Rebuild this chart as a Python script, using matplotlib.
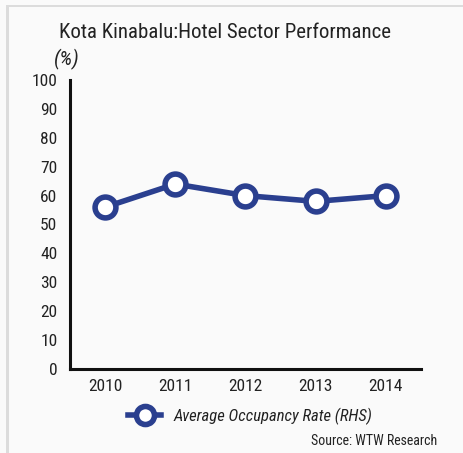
import matplotlib
matplotlib.use("Agg")
import matplotlib.pyplot as plt
from matplotlib.lines import Line2D
from matplotlib.patches import Rectangle
from matplotlib import font_manager

years = ["2010", "2011", "2012", "2013", "2014"]
occupancy = [56, 64, 60, 58, 60]
y_ticks = [0, 10, 20, 30, 40, 50, 60, 70, 80, 90, 100]

# pick a narrow sans family from what is installed
names = {f.name for f in font_manager.fontManager.ttflist}
family = "Roboto"
for cand in ["Roboto Condensed", "Fira Sans Condensed", "Asap Condensed",
             "PT Sans Narrow", "Liberation Sans Narrow"]:
    if cand in names:
        family = cand
        break
plt.rcParams["font.family"] = [family, "DejaVu Sans"]

navy = "#2a3f8f"
W, H = 464, 453
fig = plt.figure(figsize=(W / 100, H / 100), dpi=100, facecolor="#fafafa")

# frame lines along the top and left edges
fig.patches.append(Rectangle((7 / W, 1 - 7 / H), 1, 2 / H, transform=fig.transFigure,
                             facecolor="#dcdcdc", edgecolor="none"))
fig.patches.append(Rectangle((6 / W, 0), 3 / W, 1 - 5 / H, transform=fig.transFigure,
                             facecolor="#dcdcdc", edgecolor="none"))

ax = fig.add_axes([70 / W, (H - 369) / H, (421 - 70) / W, (369 - 80) / H])
ax.set_facecolor("none")
x = list(range(len(years)))
ax.plot(x, occupancy, color=navy, lw=4, marker="o", ms=15, mew=4,
        mfc="white", mec=navy, solid_joinstyle="round", zorder=3)

ax.set_xlim(-0.5, len(years) - 0.5)
ax.set_ylim(0, 100)
ax.set_yticks(y_ticks)
ax.set_xticks(x)
ax.set_xticklabels(years)
ax.tick_params(axis="both", length=0, labelsize=12.5, colors="#222222", pad=7)
ax.tick_params(axis="y", pad=9)
for side in ("top", "right"):
    ax.spines[side].set_visible(False)
for side in ("left", "bottom"):
    ax.spines[side].set_linewidth(2.2)
    ax.spines[side].set_color("#111111")

fig.text(59 / W, 1 - 33 / H, "Kota Kinabalu:Hotel Sector Performance",
         fontsize=15, color="#222222", va="center", ha="left")
fig.text(67 / W, 1 - 59 / H, "(%)", fontsize=15, style="italic",
         color="#222222", va="center", ha="center")

handle = Line2D([], [], color=navy, lw=4, marker="o", ms=13, mew=4,
                mfc="white", mec=navy)
fig.legend([handle], ["Average Occupancy Rate (RHS)"],
           loc="center", bbox_to_anchor=(250 / W, 1 - 416 / H),
           frameon=False, handlelength=2.0, handletextpad=0.7,
           prop={"size": 12, "style": "italic"}, labelcolor="#222222")

fig.text(437 / W, 1 - 441 / H, "Source: WTW Research", fontsize=10,
         color="#222222", va="center", ha="right")

fig.savefig("out.png", dpi=100, facecolor=fig.get_facecolor())
